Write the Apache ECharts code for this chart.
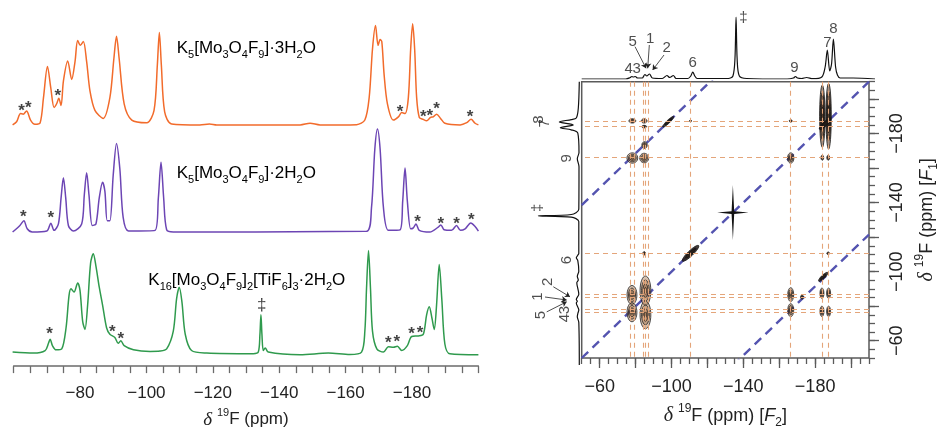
<!DOCTYPE html>
<html>
<head>
<meta charset="utf-8">
<script src="https://cdn.jsdelivr.net/npm/echarts@6/dist/echarts.min.js"></script>
<style>
  html, body { margin: 0; padding: 0; background: #fff; }
  #chart { width: 941px; height: 434px; }
</style>
</head>
<body>
<div id="chart"></div>
<script>
// ---- 1D spectra, [ppm, intensity above own baseline] ----
const spec3H2O = [[-59.7,0],[-60.9,3.3],[-62.1,11.7],[-62.9,11],[-63.9,14.3],[-65.1,5],[-66.4,0.7],[-68,2.3],[-69,28],[-70.2,60],[-71.2,38],[-72.2,18],[-73,22],[-73.6,27.3],[-74.3,20],[-75,45],[-76.3,65.7],[-77.5,46.7],[-78.5,65],[-79.3,86.7],[-80.1,81.7],[-81,85.7],[-82,65],[-83,35],[-84.5,15],[-87,6.7],[-89,28],[-90.2,68],[-91,91],[-91.8,68],[-93.3,21.7],[-95.6,5],[-100.1,2.3],[-102.3,15],[-103.3,61.7],[-103.9,95],[-104.5,61.7],[-105.5,13.3],[-107.6,1],[-116.1,0],[-119,1],[-121.2,0],[-136.2,0],[-146.3,0],[-149.3,1.7],[-152.3,0],[-163.3,0.3],[-165.8,5],[-167.1,28],[-168.1,78],[-169,102],[-169.8,81.7],[-170.4,87.7],[-170.9,85.7],[-171.6,51.7],[-172.6,21.7],[-174.4,5],[-175.9,8.3],[-176.9,12.7],[-177.9,11.7],[-178.9,28],[-179.6,78],[-180.2,104],[-180.8,78],[-181.4,28],[-182.2,7.7],[-183.4,5.7],[-184.4,4.3],[-185.6,7.7],[-186.4,8.3],[-187.4,11],[-188.6,6.7],[-189.9,1.7],[-194.5,0],[-196.5,2.3],[-197.8,5.7],[-199,1.7],[-200,0]];
const spec2H2O = [[-59.7,0],[-61.9,6.7],[-63.1,11.7],[-64.1,3.3],[-65.6,0],[-70,1],[-71.2,9],[-72.2,1.7],[-73.5,8.3],[-74.3,35],[-75,55.7],[-75.7,35],[-76.5,6.7],[-78,1],[-80.5,8.3],[-81.3,38.3],[-82,61],[-82.7,38.3],[-83.7,6.7],[-84.8,8.3],[-85.8,35],[-86.8,51],[-87.5,41.7],[-88.2,11.7],[-89,11.7],[-90,58.3],[-91,91],[-92,65],[-93,15],[-94.6,1],[-102.6,1.7],[-103.6,35],[-104.4,71.7],[-105.2,35],[-106.1,2.3],[-108.1,0],[-166.3,0.7],[-167.8,25],[-168.8,85],[-169.6,105.7],[-170.4,85],[-171.4,25],[-172.9,1.7],[-176.4,2.3],[-177.2,31.7],[-177.9,65.7],[-178.6,31.7],[-179.6,3.3],[-180.4,4.3],[-181.2,8.3],[-182.2,1.7],[-185.4,0],[-187.9,5],[-188.7,7.3],[-189.7,2.3],[-191.9,1.7],[-193.4,6.7],[-194.6,1.7],[-196,3.3],[-197.7,9.3],[-199,5.7],[-200,1]];
const specTiF6 = [[-59.7,2.7],[-66,1.7],[-69.5,4.3],[-70.5,11.7],[-71,16],[-71.7,9.3],[-72.8,5],[-74.5,6],[-75.8,27.7],[-76.7,61],[-77.3,67.7],[-78.2,64.3],[-79.3,73.7],[-80,66],[-80.8,34.3],[-81.5,26],[-82.3,51],[-83.2,94.3],[-84,103.7],[-84.8,91],[-85.8,69.3],[-86.8,51],[-88,27.7],[-89,21],[-90.5,17.7],[-91.5,11.7],[-92.3,14.3],[-93.3,9.3],[-96.1,5],[-101.1,3.3],[-104.1,3.7],[-106.1,6],[-108.1,24.3],[-109.1,57.7],[-109.9,69.3],[-110.7,54.3],[-111.7,21],[-113.6,4.3],[-118.2,1.7],[-132.2,1],[-133.7,2.7],[-134.2,21],[-134.5,41],[-134.8,21],[-135.2,4.3],[-135.8,7],[-136.7,2.7],[-146.3,0],[-154.8,1.7],[-161.3,0.3],[-164.8,2.7],[-165.8,24.3],[-166.3,67.7],[-166.9,107],[-167.5,67.7],[-168.1,24.3],[-169.4,6],[-171.4,2.7],[-172.9,8.3],[-174.4,7.7],[-175.6,8.7],[-176.9,4.3],[-178.6,9.3],[-179.9,18.7],[-181.9,19.3],[-183.4,21],[-184.4,41],[-185.2,49.3],[-186,37.7],[-186.7,26],[-187.4,51],[-188.2,92.7],[-189,56],[-189.9,11],[-191.4,1],[-200,0]];

// spinning sidebands (*) and impurity (‡)
const stars3H2O = [[-62.4,18],[-64.4,21],[-73.3,34],[-176.4,17],[-183.4,11.6],[-185.4,13.3],[-187.4,20],[-197.5,11.6]];
const stars2H2O = [[-62.9,19],[-71.2,18.3],[-181.7,14],[-188.7,11.7],[-193.4,11.7],[-197.9,15.7]];
const starsTiF6 = [[-70.8,25],[-89.7,27],[-92.3,20],[-172.9,16],[-175.4,17],[-179.9,25],[-182.4,26]];
const daggerTiF6 = [[-134.7,51]];

// ---- 2D spectrum ----
const f2Lines = [-77.3,-79.1,-84.2,-85.5,-86.9,-110.6,-166.4,-184,-187.3];
const f1Lines = [-187.3,-184,-166.4,-110.6,-86.7,-85.2,-78.2,-76.7];
const sidebandShifts = [-88.5, 0, 88.5];
// [F2, F1, width ppm, height ppm, kind] kind: 0 contour, 1 dark along diagonal, 2 cross, 3 dark ridge
const crossPeaks = [
  [-78.2,-187.3,3.8,2.5,0],[-84.8,-187.3,3.2,2.5,0],[-84.8,-184,2.8,1.5,0],[-98.2,-186.8,6,1.8,1],
  [-85,-173.3,3,4,0],[-78.2,-165.8,6,6,0],[-84.8,-165.8,5,5.5,0],[-166.4,-187.3,1.5,1.5,0],
  [-166.4,-165.8,3.5,6,0],[-184,-190,3,36,3],[-187.5,-190,3,38,3],[-185.5,-185.5,6,2.5,1],
  [-184,-166,1.5,3,0],[-187.3,-166,1.5,3,0],[-110.6,-187.3,1,1,0],[-84.8,-110.6,1.5,2,0],
  [-110.6,-110.6,9,3,1],[-187.3,-110.6,1.5,1.5,0],[-134.2,-134.2,17.5,32,2],
  [-78,-86.5,5.5,11,0],[-78,-76.5,5.5,11,0],[-85.5,-89,6,17,0],[-85.5,-75,6,16,0],
  [-166.4,-86.7,3.3,8,0],[-166.4,-77.7,3.3,7.5,0],[-172.7,-85.3,1.5,2.5,0],
  [-183.8,-87.5,2.2,6,0],[-187.5,-87.5,2.2,6,0],[-183.8,-77,2.2,6,0],[-187.5,-77,2.2,6,0],
  [-184.5,-97,5,2,1]
];
// projections [ppm, height]
const projF2 = [[-50,0],[-74,0],[-76.5,1.5],[-77.3,2.5],[-78.2,2],[-79.2,2.5],[-80.5,1],[-83,1],[-84.5,4.5],[-85.5,3],[-87,5],[-88.5,1],[-94,0.5],[-96.5,3.5],[-98,1.5],[-100,3.5],[-101.5,0.5],[-108,0.5],[-109.5,3],[-110.6,7],[-111.7,3],[-113,0.5],[-130,0.5],[-132.5,3],[-133.6,20],[-134.2,62],[-134.8,20],[-136,3],[-140,0.5],[-162,0],[-165.5,1],[-166.6,2.5],[-167.7,1],[-170,0.5],[-172.7,1.5],[-176,0.3],[-181,2],[-182.8,12],[-184,29],[-185.3,8],[-186.3,15],[-187.3,40],[-188.5,12],[-189.5,4],[-191,1],[-198,1],[-210,0]];
const projF1 = [[-50,0],[-74,0.5],[-77.3,2],[-79,1.5],[-81,0.5],[-85,3],[-86,2],[-87,3],[-90,0.5],[-96.5,2.5],[-98,1],[-100,2],[-103,0.5],[-109,1.5],[-110.6,3],[-112,1.5],[-113,0.5],[-131,0.5],[-133.5,8],[-134.2,41],[-135,8],[-138,0.5],[-162,0.3],[-166.5,2],[-170,0.3],[-181,1.5],[-182.8,8],[-184,19],[-185.6,6],[-187.3,20],[-188.6,8],[-189.5,3],[-195,1],[-210,0]];
const topLabels = [['5',-77.8,37.3],['1',-87.3,39.7],['2',-96.4,30.7],['4',-75.6,9.7],['3',-80,9.7],['6',-110.6,16.3],['9',-166,10.7],['7',-184,36.3],['8',-187.3,49.7],['‡',-138.2,60.7]];
const topArrows = [[[-79.1,32.3],[-85.1,10.7]],[[-86.9,34],[-86,10.7]],[[-94.9,24],[-88.7,9]]];
const leftLabels = [['8',-188.6,40],['7',-186.5,34],['9',-166.7,12.6],['‡',-138.8,41],['6',-109.3,12.6],['2',-97,31],['1',-88.6,41],['5',-78.2,38.6],['4',-76.5,14.3],['3',-81,14.3]];
const leftArrows = [[[26,-94.2],[9.3,-88.5]],[[34.3,-88.4],[12.6,-86.7]],[[32.6,-80],[12.6,-85.7]]];

const FONT = 'Liberation Sans, Arial, Helvetica, sans-serif';
const ORANGE = '#f26b2b', PURPLE = '#6c45b4', GREEN = '#2f9a4d';
const baseOrange = 247.7, basePurple = 137.7, baseGreen = 11.7;

function lift(arr, base) { return arr.map(p => [p[0], p[1] + base]); }
function minus(v) { return '\u2212' + Math.abs(v); }
function richSet(size) {
  const sm = Math.round(size * 0.65);
  return {
    n: { fontSize: size, lineHeight: size + 8, fontFamily: FONT, color: '#222' },
    s: { fontSize: sm, lineHeight: sm + 1, verticalAlign: 'bottom', fontFamily: FONT, color: '#222' },
    p: { fontSize: sm, lineHeight: sm + 1, verticalAlign: 'top', fontFamily: FONT, color: '#222' },
    d: { fontSize: size + 2, lineHeight: size + 8, fontFamily: 'Liberation Serif, serif', fontStyle: 'italic', color: '#222' },
    i: { fontSize: size, lineHeight: size + 8, fontFamily: FONT, fontStyle: 'italic', color: '#222' }
  };
}

function ellipsePts(cx, cy, rx, ry, rot) {
  const pts = [];
  const c = Math.cos(rot), s = Math.sin(rot);
  for (let k = 0; k < 32; k++) {
    const t = k / 32 * Math.PI * 2;
    const u = rx * Math.cos(t), v = ry * Math.sin(t);
    pts.push([cx + u * c - v * s, cy + u * s + v * c]);
  }
  return pts;
}

function renderPeak(params, api) {
  const c = api.coord([api.value(0), api.value(1)]);
  const sz = api.size([api.value(2), api.value(3)]);
  const kind = api.value(4);
  if (kind === 2) {
    const a = sz[0] / 2, b = sz[1] / 2, t = 1.3;
    return {
      type: 'polygon',
      shape: { points: [[c[0]-a,c[1]],[c[0]-t,c[1]-t],[c[0],c[1]-b],[c[0]+t,c[1]-t],[c[0]+a,c[1]],[c[0]+t,c[1]+t],[c[0],c[1]+b],[c[0]-t,c[1]+t]] },
      style: { fill: '#111' }
    };
  }
  let rx = sz[0] / 2, ry = sz[1] / 2, rot = 0;
  if (kind === 1) {
    const sd = api.size([api.value(2), api.value(2)]);
    rx = Math.hypot(sd[0], sd[1]) / 2;
    rot = -Math.atan2(sd[1], sd[0]);
  }
  let scales = [1, 0.72, 0.46, 0.22];
  let fill = 'rgba(165,115,75,0.45)';
  let stroke = '#1e1e1e';
  if (kind === 1) { fill = 'rgba(40,30,25,0.85)'; stroke = '#111'; scales = [1, 0.6]; }
  if (kind === 3) { fill = 'rgba(110,75,50,0.6)'; stroke = '#111'; scales = [1, 0.75, 0.5, 0.3]; }
  return {
    type: 'group',
    children: scales.map(k => ({
      type: 'polygon',
      shape: { points: ellipsePts(c[0], c[1], Math.max(rx * k, 0.6), Math.max(ry * k, 0.6), rot) },
      style: { fill: fill, stroke: stroke, lineWidth: 0.8 }
    }))
  };
}

const chart = echarts.init(document.getElementById('chart'));

const starLabel = { show: true, position: 'inside', formatter: '*', fontSize: 17, fontWeight: 'bold', fontFamily: FONT, color: '#111', offset: [0, 4] };
const hidden = { show: false };
const f2Major = [-200,-180,-160,-140,-120,-100,-80,-60];
const axisGray = '#5a5a5a';

const diagSeries = sidebandShifts.map((sh, i) => ({
  type: 'line', xAxisIndex: 1, yAxisIndex: 1, z: 2, showSymbol: false, clip: true,
  data: [[-50, -50 + sh], [-210, -210 + sh]],
  lineStyle: { color: '#5454b0', width: 2.4, type: [9, 6] },
  markLine: i === 1 ? {
    silent: true, symbol: ['none', 'none'], label: { show: false },
    lineStyle: { color: '#e4a57a', width: 1.1, type: [5, 4] },
    data: f2Lines.map(v => ({ xAxis: v })).concat(f1Lines.map(v => ({ yAxis: v })))
  } : undefined
}));

chart.setOption({
  animation: false,
  backgroundColor: '#fff',
  grid: [
    { left: 13.6, top: 0, width: 464.8, height: 376 },
    { left: 581.7, top: 81.7, width: 293.3, height: 283.3, show: true, borderColor: axisGray, borderWidth: 1.5 },
    { left: 581.7, top: 0, width: 293.3, height: 79 },
    { left: 520, top: 81.7, width: 59.3, height: 283.3 }
  ],
  xAxis: [
    { gridIndex: 0, type: 'value', min: -200, max: -60, inverse: true, interval: 5,
      axisLine: { lineStyle: { color: '#6b6b6b', width: 1.5 } },
      axisTick: { length: 7, lineStyle: { color: '#6b6b6b', width: 1.3 } },
      splitLine: hidden,
      axisLabel: { interval: 0, margin: 19, fontSize: 17, fontFamily: FONT, color: '#222',
        formatter: v => (v % 20 === 0 && v < -60 && v > -200) ? minus(v) : '' },
      name: '{d|δ }{p|19}{n|F (ppm)}', nameLocation: 'middle', nameGap: 39,
      nameTextStyle: { rich: richSet(17) } },
    { gridIndex: 1, type: 'value', min: -210, max: -50, inverse: true, interval: 5, position: 'bottom',
      axisLine: hidden, splitLine: hidden,
      axisTick: { length: 6, lineStyle: { color: axisGray, width: 1.3 } },
      axisLabel: { interval: 0, margin: 20, fontSize: 18, fontFamily: FONT, color: '#222',
        formatter: v => (v % 40 === 20 || v % 40 === -20) && v !== -220 ? minus(v) : '' },
      name: '{d|δ }{p|19}{n|F (ppm) [}{i|F}{s|2}{n|]}', nameLocation: 'middle', nameGap: 45,
      nameTextStyle: { rich: richSet(18) } },
    { gridIndex: 1, type: 'value', min: -210, max: -50, inverse: true, splitNumber: 8, position: 'bottom',
      axisLine: hidden, splitLine: hidden, axisLabel: hidden,
      axisTick: { length: 10, customValues: f2Major, lineStyle: { color: axisGray, width: 1.3 } } },
    { gridIndex: 2, type: 'value', min: -210, max: -50, inverse: true, show: false },
    { gridIndex: 3, type: 'value', min: 0, max: 59.3, inverse: true, show: false }
  ],
  yAxis: [
    { gridIndex: 0, type: 'value', min: 0, max: 376, show: false },
    { gridIndex: 1, type: 'value', min: -210, max: -50, inverse: true, interval: 5, position: 'right',
      axisLine: hidden, splitLine: hidden,
      axisTick: { length: 6, lineStyle: { color: axisGray, width: 1.3 } },
      axisLabel: { interval: 0, margin: 19, rotate: 90, fontSize: 18, fontFamily: FONT, color: '#222',
        formatter: v => (v % 40 === 20 || v % 40 === -20) ? minus(v) : '' },
      name: '{d|δ }{p|19}{n|F (ppm) [}{i|F}{s|1}{n|]}', nameLocation: 'middle', nameGap: 45, nameRotate: 90,
      nameTextStyle: { rich: richSet(18) } },
    { gridIndex: 1, type: 'value', min: -210, max: -50, inverse: true, splitNumber: 8, position: 'right',
      axisLine: hidden, splitLine: hidden, axisLabel: hidden,
      axisTick: { length: 10, customValues: f2Major, lineStyle: { color: axisGray, width: 1.3 } } },
    { gridIndex: 2, type: 'value', min: 0, max: 79, show: false },
    { gridIndex: 3, type: 'value', min: -210, max: -50, inverse: true, show: false }
  ],
  graphic: [
    { type: 'text', x: 176.7, y: 48.3, style: { text: '{n|K}{s|5}{n|[Mo}{s|3}{n|O}{s|4}{n|F}{s|9}{n|]·3H}{s|2}{n|O}', rich: richSet(17), align: 'left', verticalAlign: 'middle' } },
    { type: 'text', x: 176.7, y: 173.3, style: { text: '{n|K}{s|5}{n|[Mo}{s|3}{n|O}{s|4}{n|F}{s|9}{n|]·2H}{s|2}{n|O}', rich: richSet(17), align: 'left', verticalAlign: 'middle' } },
    { type: 'text', x: 148.3, y: 280, style: { text: '{n|K}{s|16}{n|[Mo}{s|3}{n|O}{s|4}{n|F}{s|9}{n|]}{s|2}{n|[TiF}{s|6}{n|]}{s|3}{n|·2H}{s|2}{n|O}', rich: richSet(17), align: 'left', verticalAlign: 'middle' } }
  ],
  series: [
    { type: 'line', xAxisIndex: 0, yAxisIndex: 0, showSymbol: false, smooth: 0.3, data: lift(spec3H2O, baseOrange), lineStyle: { color: ORANGE, width: 1.5 } },
    { type: 'line', xAxisIndex: 0, yAxisIndex: 0, showSymbol: false, smooth: 0.3, data: lift(spec2H2O, basePurple), lineStyle: { color: PURPLE, width: 1.5 } },
    { type: 'line', xAxisIndex: 0, yAxisIndex: 0, showSymbol: false, smooth: 0.3, data: lift(specTiF6, baseGreen), lineStyle: { color: GREEN, width: 1.5 } },
    { type: 'scatter', xAxisIndex: 0, yAxisIndex: 0, symbolSize: 0, label: starLabel,
      data: lift(stars3H2O, baseOrange).concat(lift(stars2H2O, basePurple), lift(starsTiF6, baseGreen)) },
    { type: 'scatter', xAxisIndex: 0, yAxisIndex: 0, symbolSize: 0, data: lift(daggerTiF6, baseGreen),
      label: { show: true, position: 'inside', formatter: '‡', fontSize: 17, fontFamily: FONT, color: '#111' } },
    ...diagSeries,
    { type: 'custom', xAxisIndex: 1, yAxisIndex: 1, z: 3, clip: true, renderItem: renderPeak, data: crossPeaks },
    { type: 'line', xAxisIndex: 3, yAxisIndex: 3, showSymbol: false, smooth: 0.3, data: projF2, lineStyle: { color: '#111', width: 1.2 } },
    { type: 'line', xAxisIndex: 4, yAxisIndex: 4, showSymbol: false, smooth: 0.3, data: projF1.map(p => [p[1], p[0]]), lineStyle: { color: '#111', width: 1.2 } },
    { type: 'scatter', xAxisIndex: 3, yAxisIndex: 3, symbolSize: 0,
      data: topLabels.map(d => ({ name: d[0], value: [d[1], d[2]] })),
      label: { show: true, position: 'inside', formatter: '{b}', fontSize: 15, fontFamily: FONT, color: '#222' } },
    { type: 'scatter', xAxisIndex: 4, yAxisIndex: 4, symbolSize: 0,
      data: leftLabels.map(d => ({ name: d[0], value: [d[2], d[1]] })),
      label: { show: true, position: 'inside', formatter: '{b}', rotate: 90, fontSize: 15, fontFamily: FONT, color: '#222' } },
    { type: 'lines', coordinateSystem: 'cartesian2d', xAxisIndex: 3, yAxisIndex: 3, symbol: ['none', 'arrow'], symbolSize: 5,
      lineStyle: { color: '#222', width: 0.8, opacity: 1 }, data: topArrows.map(c => ({ coords: c })) },
    { type: 'lines', coordinateSystem: 'cartesian2d', xAxisIndex: 4, yAxisIndex: 4, symbol: ['none', 'arrow'], symbolSize: 5,
      lineStyle: { color: '#222', width: 0.8, opacity: 1 }, data: leftArrows.map(c => ({ coords: c })) }
  ]
});
</script>
</body>
</html>
